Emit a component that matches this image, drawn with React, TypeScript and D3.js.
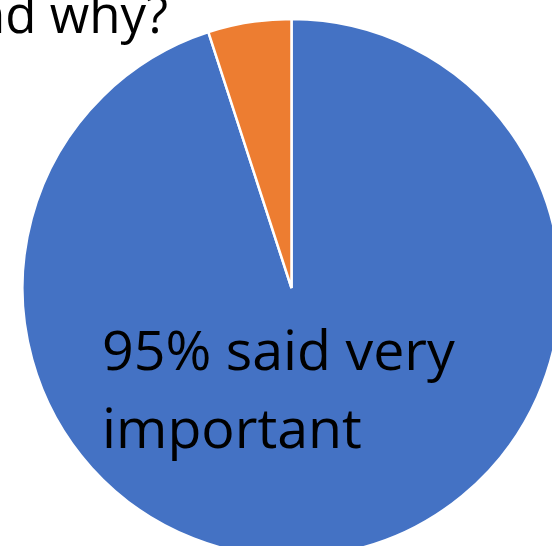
import React from "react";
import * as d3 from "d3";

const categories = ["Very important", "Other"];
const values = [95, 5];
const colors = ["#4472C4", "#ED7D31"];
const labelLines = ["95% said very", "important"];
const titleText = "and why?";

export default function App() {
  const width = 552;
  const height = 546;
  const cx = 291.5;
  const cy = 288;
  const r = 269;
  const data = categories.map((c, i) => ({ c, v: values[i] }));
  const pie = d3.pie<any>().value((d) => d.v).sort(null).startAngle(0).endAngle(2 * Math.PI);
  const arc = d3.arc<any>().innerRadius(0).outerRadius(r);
  const arcs = pie(data);
  const font = "'Open Sans', 'Noto Sans', sans-serif";
  return (
    <svg
      width={width}
      height={height}
      style={{ position: "absolute", left: 0, top: 0, background: "#fff" }}
    >
      <g transform={`translate(${cx},${cy})`}>
        {arcs.map((a, i) => (
          <path key={i} d={arc(a) as string} fill={colors[i]} stroke="#fff" strokeWidth={2.5} strokeLinejoin="miter" />
        ))}
      </g>
      <text x={168} y={33} textAnchor="end" fontFamily={font} fontSize={51} fill="#000">
        {titleText}
      </text>
      {labelLines.map((t, i) => (
        <text key={i} x={102} y={370 + i * 78} fontFamily={font} fontSize={55.5} fill="#000">
          {t}
        </text>
      ))}
    </svg>
  );
}
